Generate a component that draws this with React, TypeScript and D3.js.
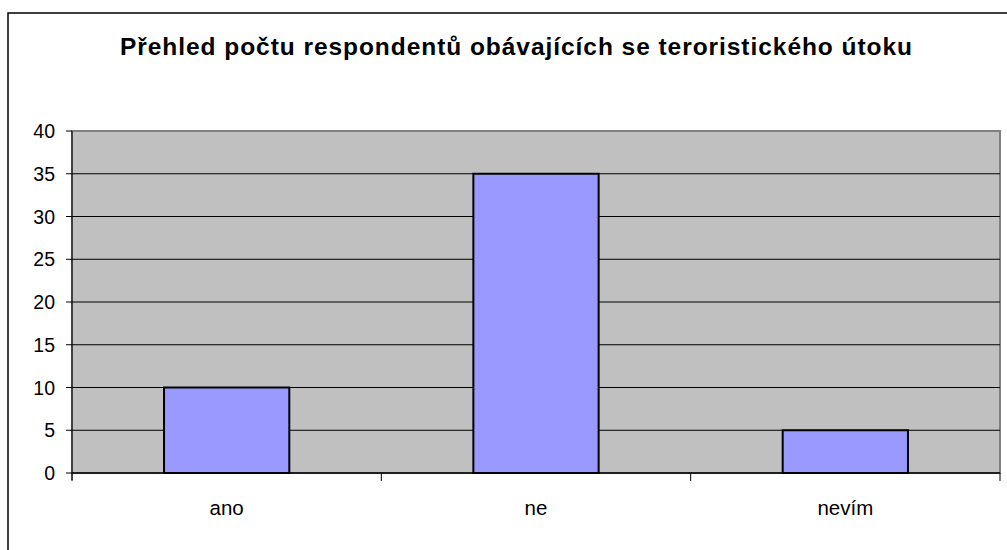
import React from "react";
import * as d3 from "d3";

const categories = ["ano", "ne", "nevím"];
const values = [10, 35, 5];
const yTicks = [0, 5, 10, 15, 20, 25, 30, 35, 40];
const title = "Přehled počtu respondentů obávajících se teroristického útoku";

export default function App() {
  const W = 1007, H = 550;
  const left = 72, right = 1000, top = 131, bottom = 473;
  const x = d3.scaleBand<string>().domain(categories).range([left, right]).paddingInner(0).paddingOuter(0);
  const y = d3.scaleLinear().domain([0, 40]).range([bottom, top]);
  const barW = x.bandwidth() * 0.405;
  const font = "'Liberation Sans', Arial, sans-serif";
  return (
    <svg width={W} height={H} style={{ position: "absolute", left: 0, top: 0 }} fontFamily={font}>
      <rect x={0} y={0} width={W} height={H} fill="#fff" />
      <rect x={8} y={13} width={W + 20} height={H + 20} fill="none" stroke="#000" strokeWidth={1.5} />
      <text x={516} y={55} textAnchor="middle" fontSize={24.5} fontWeight="bold" textLength={792} lengthAdjust="spacing">{title}</text>
      <rect x={left} y={top} width={right - left} height={bottom - top} fill="#c0c0c0" stroke="#808080" strokeWidth={2} />
      {yTicks.map((t) => (
        <g key={t}>
          {t > 0 && t < 40 && <line x1={left} x2={right} y1={y(t)} y2={y(t)} stroke="#000" strokeWidth={1} />}
          <line x1={left - 6} x2={left} y1={y(t)} y2={y(t)} stroke="#000" strokeWidth={1} />
          <text x={55} y={y(t) + 7} textAnchor="end" fontSize={19.5}>{t}</text>
        </g>
      ))}
      {categories.map((c, i) => (
        <rect key={c} x={x(c)! + (x.bandwidth() - barW) / 2} y={y(values[i])} width={barW} height={bottom - y(values[i])} fill="#9999ff" stroke="#000" strokeWidth={2} />
      ))}
      <line x1={left} x2={left} y1={top} y2={bottom + 7} stroke="#000" strokeWidth={1} />
      <line x1={left} x2={right} y1={bottom} y2={bottom} stroke="#000" strokeWidth={1.5} />
      {[...categories.map((c) => x(c)!), right].map((p, i) => (
        <line key={i} x1={p} x2={p} y1={bottom} y2={bottom + 8} stroke="#000" strokeWidth={1} />
      ))}
      {categories.map((c) => (
        <text key={c} x={x(c)! + x.bandwidth() / 2} y={515} textAnchor="middle" fontSize={20.5}>{c}</text>
      ))}
    </svg>
  );
}
